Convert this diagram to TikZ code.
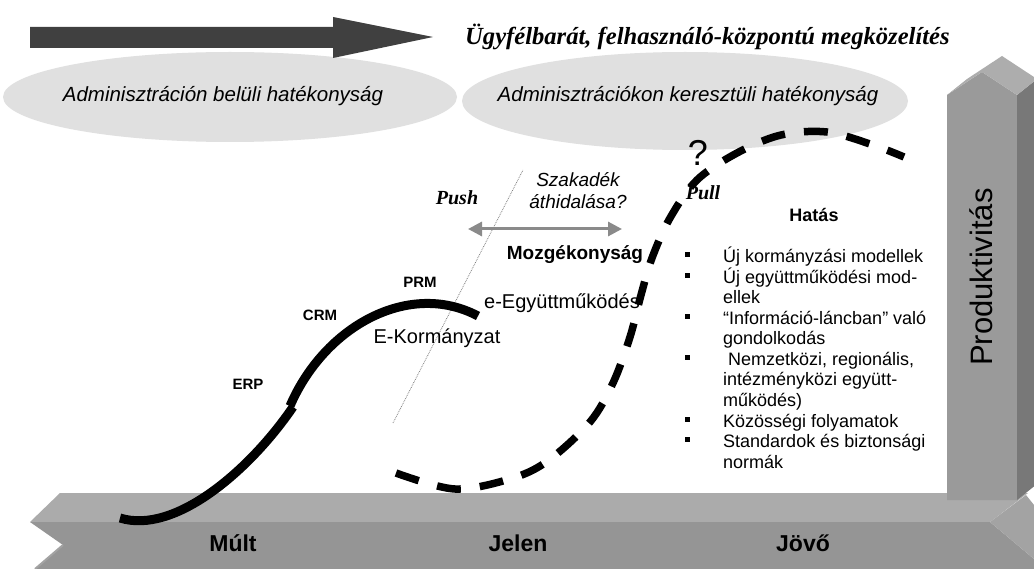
\documentclass[tikz,border=0pt]{standalone}
\usepackage{fontspec}
\setmainfont{Liberation Sans}
\newfontfamily\tnr{Liberation Serif}
\usetikzlibrary{arrows.meta}
\definecolor{ellgray}{HTML}{E0E0E0}
\definecolor{arrdark}{HTML}{404040}
\definecolor{tltop}{HTML}{ABABAB}
\definecolor{tlfront}{HTML}{959595}
\definecolor{tlbevel}{HTML}{A3A3A3}
\definecolor{colfront}{HTML}{9A9A9A}
\definecolor{colside}{HTML}{787878}
\definecolor{coltop}{HTML}{ADADAD}
\definecolor{midgray}{HTML}{8A8A8A}
\tikzset{
  lbl/.style={inner sep=0pt, text=black},
  italbl/.style={lbl, font=\itshape\fontsize{20.5}{24}\selectfont},
  serifbi/.style={lbl, font=\tnr\bfseries\itshape\fontsize{20}{24}\selectfont},
  smallb/.style={lbl, font=\bfseries\fontsize{15}{18}\selectfont},
  midreg/.style={lbl, font=\fontsize{20}{24}\selectfont},
  timelbl/.style={lbl, font=\bfseries\fontsize{23}{26}\selectfont},
  listtxt/.style={lbl, anchor=base west, font=\fontsize{18}{20.5}\selectfont},
  bulletsq/.style={fill=black, minimum width=5pt, minimum height=5pt, inner sep=0pt},
  solidcurve/.style={line width=9pt, black},
  dashcurve/.style={line width=7.5pt, black, dash pattern=on 24pt off 19.1pt},
}
\begin{document}
\begin{tikzpicture}[x=1pt,y=-1pt]
\useasboundingbox (0,0) rectangle (1034,569);
\fill[white] (0,0) rectangle (1034,569);

% ellipses
\fill[ellgray] (230,97) ellipse [x radius=227pt, y radius=45pt];
\fill[ellgray] (685,101) ellipse [x radius=223pt, y radius=49pt];
\node[italbl] (e1) at (223,96) {Adminisztráción belüli hatékonyság};
\node[italbl] (e2) at (688,96) {Adminisztrációkon keresztüli hatékonyság};

% top arrow
\fill[arrdark] (30,27) -- (333,27) -- (333,17) -- (433,37) -- (333,58) -- (333,48) -- (30,48) -- cycle;
\node[lbl, anchor=west, font=\tnr\bfseries\itshape\fontsize{24.6}{28}\selectfont] (title) at (465,37) {Ügyfélbarát, felhasználó-központú megközelítés};

% timeline
\fill[tltop] (60,493) -- (1028,493) -- (990,522) -- (30,522) -- cycle;
\fill[tlfront] (30,522) -- (990,522) -- (1034,559) -- (1034,569) -- (35,569) -- (63,545) -- cycle;
\fill[tlbevel] (990,522) -- (1026,495) -- (1034,505) -- (1034,559) -- cycle;
\draw[tlbevel, line width=2pt] (63,545) -- (35,569);
\node[timelbl] (past) at (233,543) {Múlt};
\node[timelbl] (now) at (518,543) {Jelen};
\node[timelbl] (future) at (803,543) {Jövő};

% productivity column
\fill[colfront] (947,95) -- (982,72) -- (1017,95) -- (1017,500) -- (947,500) -- cycle;
\fill[colside] (1017,95) -- (1037,79) -- (1037,484) -- (1017,500) -- cycle;
\fill[coltop] (947,95) -- (967,79) -- (1002,56) -- (1037,79) -- (1017,95) -- (982,72) -- cycle;
\node[lbl, rotate=90, font=\fontsize{31}{34}\selectfont] (prod) at (981,277) {Produktivitás};

% dotted divider and gap arrow
\coordinate (dotA) at (393,423);
\coordinate (dotB) at (523,170);
\draw[gray, line width=0.8pt, densely dotted] (dotA) -- (dotB);
\coordinate (gapL) at (468,229);
\coordinate (gapR) at (622,229);
\draw[midgray, line width=3pt, {Triangle[length=14pt,width=14pt]}-{Triangle[length=14pt,width=14pt]}] (gapL) -- (gapR);

% solid S-curve
\coordinate (s0) at (120,518);
\coordinate (s1) at (293,407);
\coordinate (s2) at (290,406);
\coordinate (s3) at (478,316);
\draw[solidcurve] (s0) .. controls (175,535) and (250,470) .. (s1);
\draw[solidcurve] (s2) .. controls (325,325) and (410,280) .. (s3);

% dashed S-curve
\draw[dashcurve] plot[smooth, tension=0.55] coordinates {(396,473) (455,489) (513,478) (549,460) (590,422) (613,383) (630,337) (641,295) (652,258) (670,218) (697,180) (737,153) (781,135) (827,132) (873,145) (904,157)};

% labels on the curve
\node[smallb] (erp) at (248,384) {ERP};
\node[smallb] (crm) at (320,315) {CRM};
\node[smallb] (prm) at (420,282) {PRM};
\node[midreg] (egov) at (437,338) {E-Kormányzat};
\node[midreg] (ecoop) at (562,303) {e-Együttműködés};
\node[lbl, font=\bfseries\fontsize{19}{22}\selectfont] (agil) at (575,255) {Mozgékonyság};
\node[lbl, align=center, font=\itshape\fontsize{19}{22}\selectfont] (gap) at (578,191) {Szakadék\\áthidalása?};
\node[serifbi] (push) at (457,198) {Push};
\node[serifbi] (pull) at (703,193) {Pull};
\node[lbl, font=\fontsize{36}{40}\selectfont] (qm) at (698,153) {?};

% impact list
\node[lbl, font=\bfseries\fontsize{18}{21}\selectfont] (impact) at (814,215) {Hatás};
\foreach \t [count=\i from 0] in {Új kormányzási modellek, Új együttműködési mod-, ellek, “Információ-láncban” való, gondolkodás, \ Nemzetközi{,} regionális{,}, intézményközi együtt-, működés), Közösségi folyamatok, Standardok és biztonsági, normák}
  \node[listtxt] (item\i) at (723,263+20.5*\i) {\t};
\foreach \i in {0,1,3,5,8,9}
  \node[bulletsq] (bul\i) at (687,263+20.5*\i-8) {};
\end{tikzpicture}
\end{document}
